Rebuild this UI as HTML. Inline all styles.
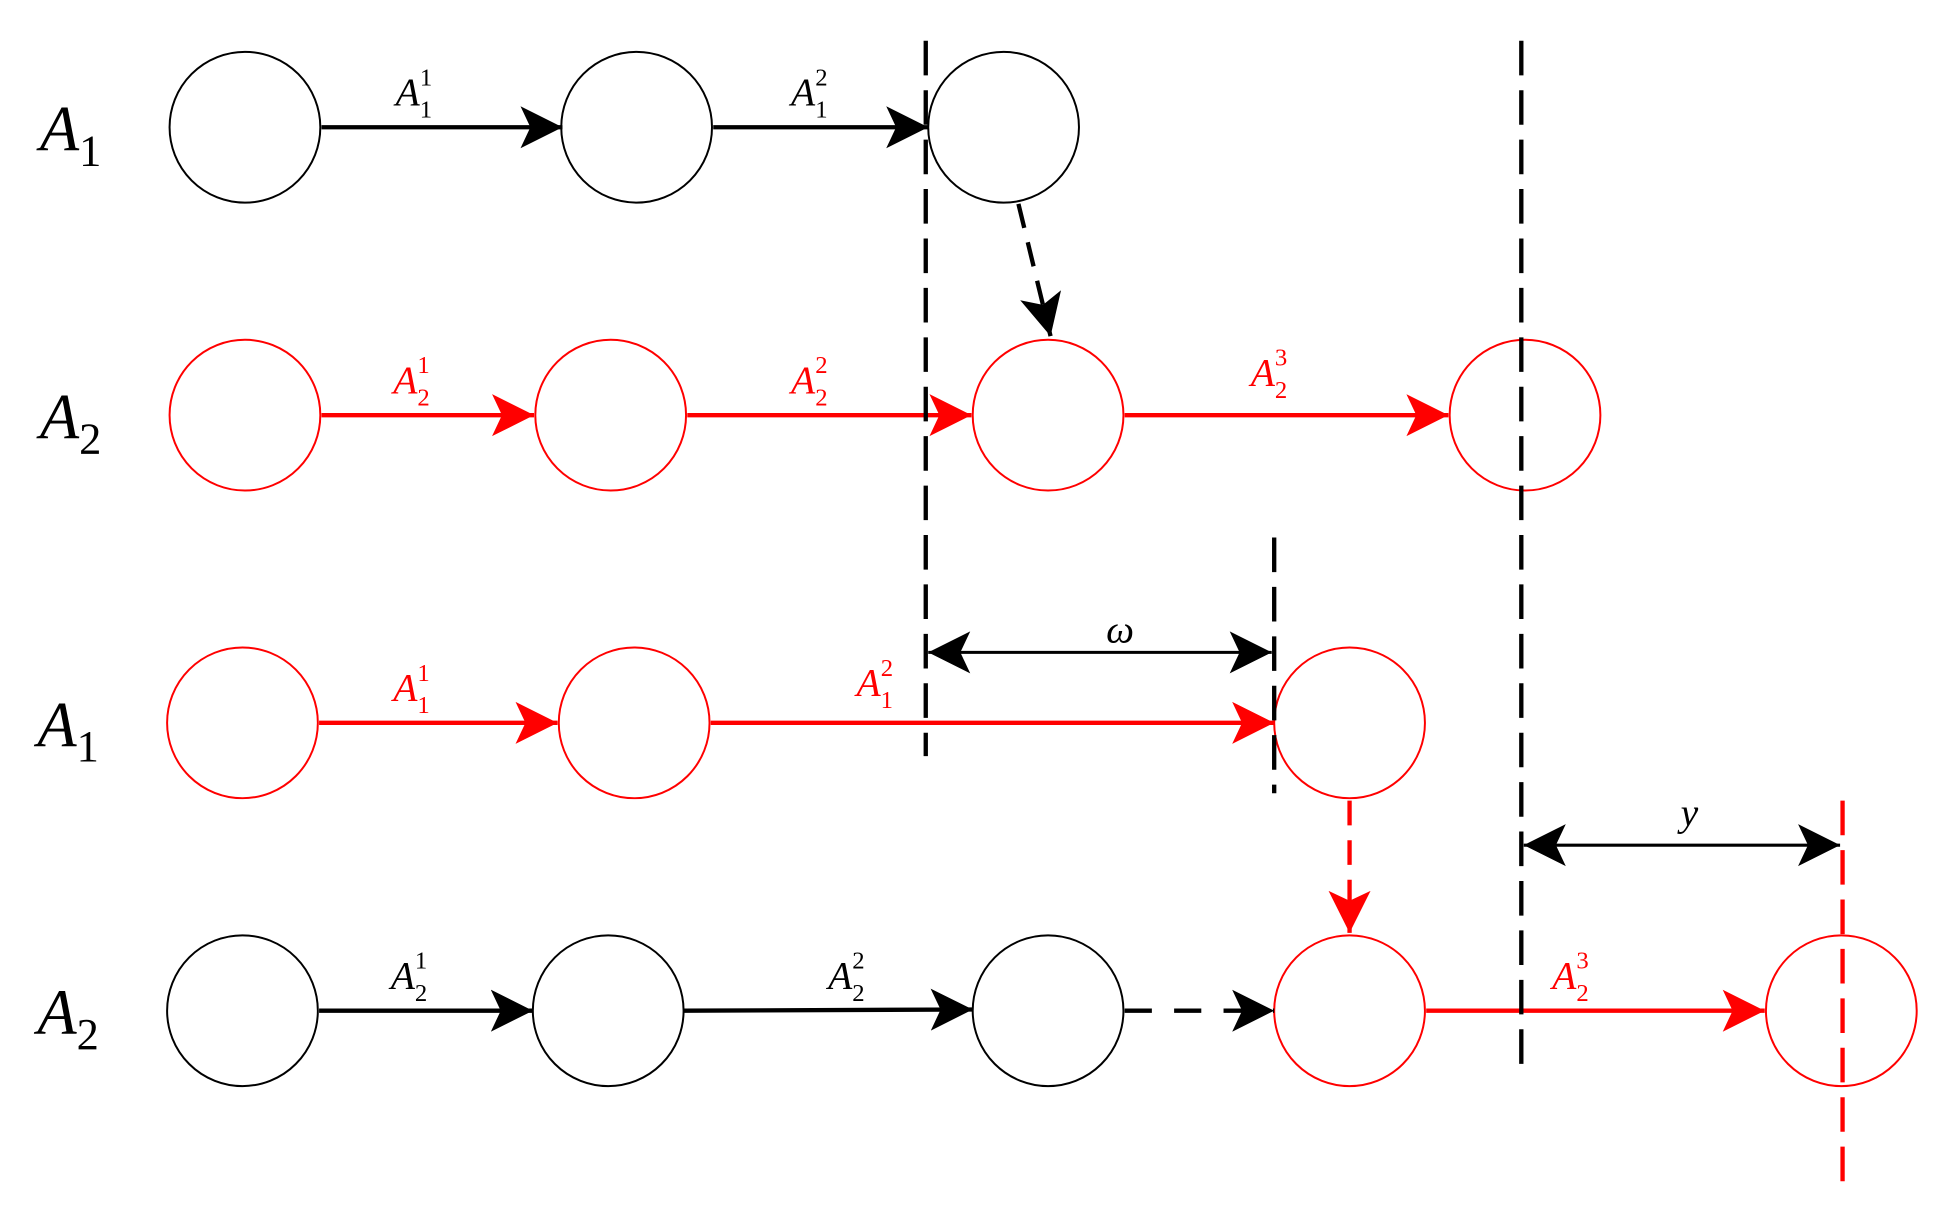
<!DOCTYPE html>
<html><head><meta charset="utf-8"><style>
html,body{margin:0;padding:0;background:#fff;}
svg{display:block;}
text{font-family:"Liberation Serif",serif;font-style:italic;}
</style></head><body>
<svg width="1938" height="1222" viewBox="0 0 1568 989" xmlns="http://www.w3.org/2000/svg">
<defs>
<marker id="ab" markerWidth="36" markerHeight="36" refX="34" refY="18" orient="auto" markerUnits="userSpaceOnUse">
<path d="M0,1 L34,18 L0,35 L8,18 Z" fill="#000"/></marker>
<marker id="ar" markerWidth="36" markerHeight="36" refX="34" refY="18" orient="auto" markerUnits="userSpaceOnUse">
<path d="M0,1 L34,18 L0,35 L8,18 Z" fill="#f00"/></marker>
<marker id="abs" markerWidth="36" markerHeight="36" refX="0" refY="18" orient="auto" markerUnits="userSpaceOnUse">
<path d="M34,1 L0,18 L34,35 L26,18 Z" fill="#000"/></marker>
</defs>
<g fill="none" stroke-width="1.6">
<!-- row1 -->
<circle cx="198" cy="103" r="61" stroke="#000"/>
<circle cx="515" cy="103" r="61" stroke="#000"/>
<circle cx="812" cy="103" r="61" stroke="#000"/>
<!-- row2 -->
<circle cx="198" cy="336" r="61" stroke="#f00"/>
<circle cx="494" cy="336" r="61" stroke="#f00"/>
<circle cx="848" cy="336" r="61" stroke="#f00"/>
<circle cx="1234" cy="336" r="61" stroke="#f00"/>
<!-- row3 -->
<circle cx="196" cy="585" r="61" stroke="#f00"/>
<circle cx="513" cy="585" r="61" stroke="#f00"/>
<circle cx="1092" cy="585" r="61" stroke="#f00"/>
<!-- row4 -->
<circle cx="196" cy="818" r="61" stroke="#000"/>
<circle cx="492" cy="818" r="61" stroke="#000"/>
<circle cx="848" cy="818" r="61" stroke="#000"/>
<circle cx="1092" cy="818" r="61" stroke="#f00"/>
<circle cx="1490" cy="818" r="61" stroke="#f00"/>
</g>
<g stroke-width="3.5" fill="none">
<line x1="260" y1="103" x2="455" y2="103" stroke="#000" marker-end="url(#ab)"/>
<line x1="577" y1="103" x2="751" y2="103" stroke="#000" marker-end="url(#ab)"/>
<line x1="824" y1="165" x2="850" y2="272" stroke="#000" stroke-dasharray="20,12" marker-end="url(#ab)"/>
<line x1="260" y1="336" x2="432" y2="336" stroke="#f00" marker-end="url(#ar)"/>
<line x1="556" y1="336" x2="786" y2="336" stroke="#f00" marker-end="url(#ar)"/>
<line x1="910" y1="336" x2="1172" y2="336" stroke="#f00" marker-end="url(#ar)"/>
<line x1="258" y1="585" x2="451" y2="585" stroke="#f00" marker-end="url(#ar)"/>
<line x1="575" y1="585" x2="1031" y2="585" stroke="#f00" marker-end="url(#ar)"/>
<line x1="1092" y1="648" x2="1092" y2="755" stroke="#f00" stroke-dasharray="20,12" marker-end="url(#ar)"/>
<line x1="258" y1="818" x2="431" y2="818" stroke="#000" marker-end="url(#ab)"/>
<line x1="553" y1="818" x2="787" y2="817" stroke="#000" marker-end="url(#ab)"/>
<line x1="910" y1="818" x2="1031" y2="818" stroke="#000" stroke-dasharray="22,18" marker-end="url(#ab)"/>
<line x1="1154" y1="818" x2="1428" y2="818" stroke="#f00" marker-end="url(#ar)"/>
<!-- vertical dashed -->
<line x1="749" y1="33" x2="749" y2="612" stroke="#000" stroke-dasharray="28,12"/>
<line x1="1231" y1="33" x2="1231" y2="872" stroke="#000" stroke-dasharray="28,12"/>
<line x1="1031" y1="435" x2="1031" y2="642" stroke="#000" stroke-dasharray="28,12"/>
<line x1="1491" y1="648" x2="1491" y2="965" stroke="#f00" stroke-dasharray="28,12"/>
</g>
<g stroke-width="2.5" stroke="#000">
<line x1="751" y1="528" x2="1029" y2="528" marker-start="url(#abs)" marker-end="url(#ab)"/>
<line x1="1233" y1="684" x2="1489" y2="684" marker-start="url(#abs)" marker-end="url(#ab)"/>
</g>
<!-- row labels -->
<g font-size="52" fill="#000">
<text x="32" y="122">A<tspan font-size="36" font-style="normal" dy="12">1</tspan></text>
<text x="32" y="355">A<tspan font-size="36" font-style="normal" dy="12">2</tspan></text>
<text x="30" y="604">A<tspan font-size="36" font-style="normal" dy="12">1</tspan></text>
<text x="30" y="837">A<tspan font-size="36" font-style="normal" dy="12">2</tspan></text>
</g>
<!-- edge labels -->
<g font-size="32">
<text x="320" y="85" fill="#000">A<tspan font-size="20" font-style="normal" dy="10">1</tspan><tspan font-size="20" font-style="normal" dx="-10" dy="-26">1</tspan></text>
<text x="640" y="85" fill="#000">A<tspan font-size="20" font-style="normal" dy="10">1</tspan><tspan font-size="20" font-style="normal" dx="-10" dy="-26">2</tspan></text>
<text x="318" y="318" fill="#f00">A<tspan font-size="20" font-style="normal" dy="10">2</tspan><tspan font-size="20" font-style="normal" dx="-10" dy="-26">1</tspan></text>
<text x="640" y="318" fill="#f00">A<tspan font-size="20" font-style="normal" dy="10">2</tspan><tspan font-size="20" font-style="normal" dx="-10" dy="-26">2</tspan></text>
<text x="1012" y="312" fill="#f00">A<tspan font-size="20" font-style="normal" dy="10">2</tspan><tspan font-size="20" font-style="normal" dx="-10" dy="-26">3</tspan></text>
<text x="318" y="567" fill="#f00">A<tspan font-size="20" font-style="normal" dy="10">1</tspan><tspan font-size="20" font-style="normal" dx="-10" dy="-26">1</tspan></text>
<text x="693" y="563" fill="#f00">A<tspan font-size="20" font-style="normal" dy="10">1</tspan><tspan font-size="20" font-style="normal" dx="-10" dy="-26">2</tspan></text>
<text x="316" y="800" fill="#000">A<tspan font-size="20" font-style="normal" dy="10">2</tspan><tspan font-size="20" font-style="normal" dx="-10" dy="-26">1</tspan></text>
<text x="670" y="800" fill="#000">A<tspan font-size="20" font-style="normal" dy="10">2</tspan><tspan font-size="20" font-style="normal" dx="-10" dy="-26">2</tspan></text>
<text x="1256" y="800" fill="#f00">A<tspan font-size="20" font-style="normal" dy="10">2</tspan><tspan font-size="20" font-style="normal" dx="-10" dy="-26">3</tspan></text>
<text x="895" y="520" fill="#000">ω</text>
<text x="1360" y="668" fill="#000">y</text>
</g>
</svg>
</body></html>
